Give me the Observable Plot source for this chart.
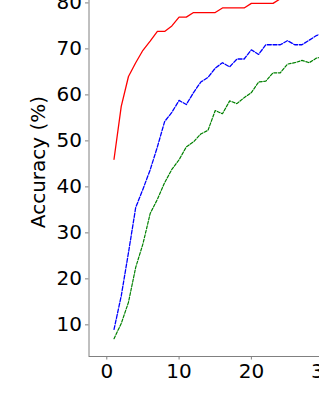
<!DOCTYPE html>
<html>
<head>
<meta charset="utf-8">
<script src="https://cdn.jsdelivr.net/npm/d3@7"></script>
<script src="https://cdn.jsdelivr.net/npm/@observablehq/plot@0.6"></script>
<style>
  html, body { margin: 0; padding: 0; width: 319px; height: 412px; overflow: hidden; background: #fff; }
  #chart { position: absolute; left: 0; top: -40px; width: 700px; }
  #chart svg { max-width: none !important; width: 700px; height: 446px; }
</style>
</head>
<body>
<div id="chart"></div>
<script>
const epochs = d3.range(1, 31);
const redSeries = [46, 57.5, 64, 67, 69.7, 71.7, 73.8, 73.8, 75, 76.9, 76.9, 77.9, 77.9, 77.9, 77.9, 78.9, 78.9, 78.9, 78.9, 79.9, 79.9, 79.9, 79.9, 80.9, 81, 81, 81.5, 82, 82, 82];
const blueSeries = [9, 16.3, 25.7, 35.5, 39.5, 43.7, 48.7, 54.2, 56.2, 58.8, 57.9, 60.5, 62.8, 63.8, 65.8, 67, 66.1, 67.8, 67.8, 69.8, 68.8, 70.9, 70.9, 70.9, 71.8, 70.9, 70.9, 71.9, 72.9, 73.5];
const greenSeries = [7, 10.3, 14.9, 22.5, 27.6, 34.2, 37.3, 40.9, 43.8, 45.9, 48.7, 49.8, 51.5, 52.3, 56.6, 55.9, 58.7, 58.1, 59.4, 60.5, 62.8, 63, 64.8, 64.8, 66.7, 67, 67.5, 67, 68, 68.3];
const xTicks = [0, 10, 20, 30, 40, 50, 60, 70];
const yTicks = [10, 20, 30, 40, 50, 60, 70, 80];
const yLabel = "Accuracy (%)";

const xDomain = [-2.46, 73.45];
const yDomain = [3.12, 87.7];

const toRows = (vals) => vals.map((v, i) => ({epoch: epochs[i], acc: v}));
const spine = "#808080";

const chart = Plot.plot({
  width: 700,
  height: 446,
  marginLeft: 88.5,
  marginRight: 700 - 637.3,
  marginTop: 7,
  marginBottom: 50,
  style: {fontFamily: "DejaVu Sans", fontSize: "20px", background: "white", color: "black", maxWidth: "none"},
  x: {domain: xDomain},
  y: {domain: yDomain},
  marks: [
    Plot.ruleX([xDomain[0]], {stroke: spine, strokeWidth: 1}),
    Plot.ruleY([yDomain[0]], {stroke: spine, strokeWidth: 1}),
    Plot.axisX({ticks: xTicks, tickSize: 3.5, tickPadding: 3.5, stroke: spine, fill: "black", label: null, tickFormat: d3.format("d")}),
    Plot.axisY({ticks: yTicks, tickSize: 3.5, tickPadding: 3.5, stroke: spine, fill: "black", label: yLabel, labelAnchor: "center", labelArrow: "none", labelOffset: 58, tickFormat: d3.format("d")}),
    Plot.line(toRows(redSeries), {x: "epoch", y: "acc", stroke: "#ff0000", strokeWidth: 1.3, clip: true}),
    Plot.line(toRows(blueSeries), {x: "epoch", y: "acc", stroke: "#0000ff", strokeWidth: 1.3, strokeDasharray: "4,1.7", clip: true}),
    Plot.line(toRows(greenSeries), {x: "epoch", y: "acc", stroke: "#008000", strokeWidth: 1.2, strokeDasharray: "3,1.6", clip: true})
  ]
});
document.getElementById("chart").appendChild(chart);
</script>
</body>
</html>
